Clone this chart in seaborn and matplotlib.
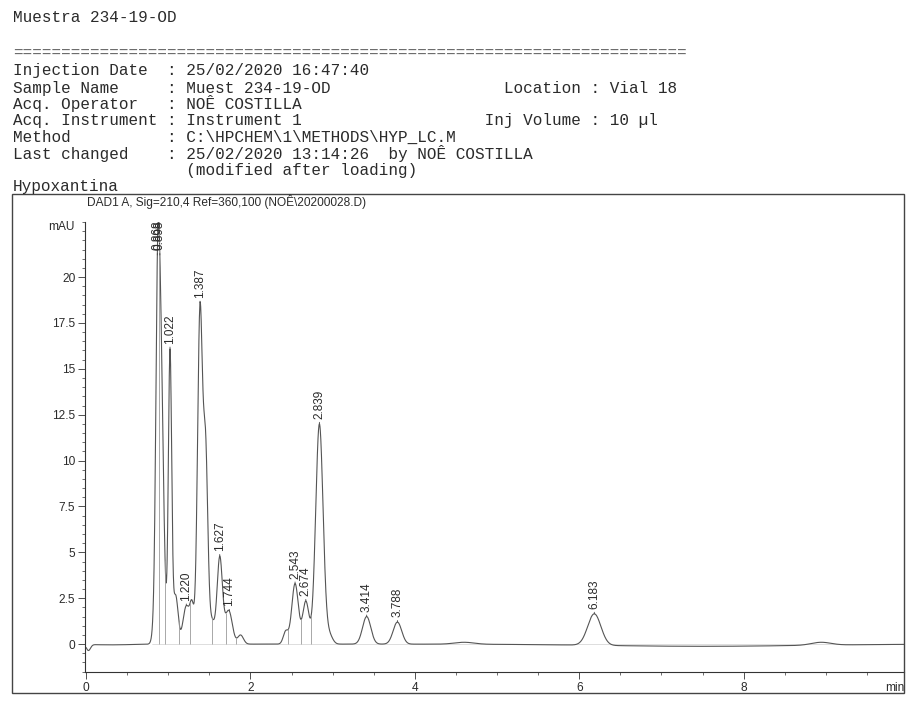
import numpy as np
import pandas as pd
import matplotlib
matplotlib.use("Agg")
import matplotlib.pyplot as plt
import seaborn as sns
from matplotlib.patches import Rectangle
from matplotlib.ticker import MultipleLocator, FixedLocator, FixedFormatter

# ---------------- data ----------------
peak_labels = ["0.868", "0.898", "1.022", "1.220", "1.387", "1.627", "1.744",
               "2.543", "2.674", "2.839", "3.414", "3.788", "6.183"]
peak_times = [0.868, 0.898, 1.022, 1.220, 1.387, 1.627, 1.744,
              2.543, 2.674, 2.839, 3.414, 3.788, 6.183]
peak_heights = [21.3, 21.3, 16.1, 2.1, 18.6, 4.8, 1.8,
                3.3, 2.35, 12.0, 1.5, 1.2, 1.65]
peak_widths = [0.020, 0.037, 0.020, 0.040, 0.030, 0.032, 0.040,
               0.040, 0.038, 0.045, 0.050, 0.052, 0.080]

# unlabelled features of the trace (dip at injection, shoulders, valleys, bumps, drift)
minor_times = [0.03, 0.30, 0.962, 1.09, 1.13, 1.29, 1.455, 1.53, 1.70, 1.88,
               2.43, 2.96, 4.60, 7.50, 8.94]
minor_heights = [-0.35, -0.04, 4.6, 2.7, 1.25, 2.4, 11.6, 1.5, 1.7, 0.5,
                 0.75, 0.8, 0.10, -0.12, 0.10]
minor_widths = [0.025, 0.25, 0.020, 0.030, 0.030, 0.025, 0.027, 0.035, 0.035,
                0.035, 0.030, 0.040, 0.12, 1.2, 0.12]

# integration drop lines (min)
drop_times = [0.883, 0.962, 1.13, 1.27, 1.53, 1.70, 1.83, 2.46, 2.61, 2.74]

y_ticks = [0, 2.5, 5, 7.5, 10, 12.5, 15, 17.5, 20]
y_tick_labels = ["0", "2.5", "5", "7.5", "10", "12.5", "15", "17.5", "20"]
x_ticks = [0, 2, 4, 6, 8]
x_tick_labels = ["0", "2", "4", "6", "8"]

header_lines = [
    "Injection Date  : 25/02/2020 16:47:40",
    "Sample Name     : Muest 234-19-OD                  Location : Vial 18",
    "Acq. Operator   : NOÊ COSTILLA",
    "Acq. Instrument : Instrument 1                   Inj Volume : 10 µl",
    "Method          : C:\\HPCHEM\\1\\METHODS\\HYP_LC.M",
    "Last changed    : 25/02/2020 13:14:26  by NOÊ COSTILLA",
    "                  (modified after loading)",
]
signal_title = "DAD1 A, Sig=210,4 Ref=360,100 (NOÊ\\20200028.D)"

# ---------------- build trace from the read peak table ----------------
centers = np.array(peak_times + minor_times)
heights = np.array(peak_heights + minor_heights)
widths = np.array(peak_widths + minor_widths)
G = np.exp(-(centers[:, None] - centers[None, :]) ** 2 / (2 * widths[None, :] ** 2))
amps = np.linalg.solve(G, heights)


def trace_at(x):
    x = np.atleast_1d(np.asarray(x, dtype=float))
    return (amps[None, :] * np.exp(-(x[:, None] - centers[None, :]) ** 2
                                   / (2 * widths[None, :] ** 2))).sum(axis=1)


t = np.linspace(0, 9.95, 5000)
df = pd.DataFrame({"time": t, "mAU": trace_at(t)})

# ---------------- figure ----------------
sns.set_theme(style="white")
plt.rcParams["font.family"] = ["Liberation Sans", "DejaVu Sans"]

W, H = 908, 720
fig = plt.figure(figsize=(W / 100, H / 100), dpi=100)
fig.patch.set_facecolor("white")


def fx(px):
    return px / W


def fy(py):
    return 1 - py / H


ink = "#2b2b2b"
mono = ["Liberation Mono", "DejaVu Sans Mono"]
hsize = 11.5

fig.text(fx(13), fy(18), "Muestra 234-19-OD", family=mono, fontsize=hsize,
         color=ink, va="center", ha="left")
fig.text(fx(13), fy(53), "=" * 70, family=mono, fontsize=hsize,
         color="#666666", va="center", ha="left")
line_y = [71, 88, 104, 121, 137, 153, 170]
for yy, line in zip(line_y, header_lines):
    fig.text(fx(13), fy(yy), line, family=mono, fontsize=hsize, color=ink,
             va="center", ha="left")
fig.text(fx(13), fy(187), "Hypoxantina", family=mono, fontsize=hsize,
         color=ink, va="center", ha="left")

# outer frame
fig.patches.append(Rectangle((fx(12), fy(693)), fx(904 - 12), (693 - 194) / H,
                             transform=fig.transFigure, fill=False,
                             edgecolor="#444444", linewidth=1.0))
fig.text(fx(87), fy(202), signal_title, fontsize=8.6, color=ink,
         va="center", ha="left")

ax = fig.add_axes([fx(85), fy(672), fx(904 - 85), (672 - 222) / H])
ax.set_facecolor("white")

sns.lineplot(data=df, x="time", y="mAU", ax=ax, color="#555555",
             linewidth=0.8, estimator=None, sort=False)

# drop lines and integration baseline
drop_vals = trace_at(drop_times)
ax.vlines(drop_times, 0, drop_vals, colors="#9a9a9a", linewidth=0.6)
ax.plot([0.8, 9.95], [0, 0], color="#c4c4c4", linewidth=0.4, zorder=0)

ax.set_xlim(-0.012, 9.95)
ax.set_ylim(-1.52, 23.0)

# peak labels
apex_vals = trace_at(peak_times)
for lab, tt, yv in zip(peak_labels, peak_times, apex_vals):
    ya = min(yv, 21.2)
    ax.annotate(lab, xy=(tt, ya), xytext=(0, 3.5), textcoords="offset points",
                rotation=90, ha="center", va="bottom", fontsize=8.5,
                color=ink,
                arrowprops=dict(arrowstyle="-", color="#444444", lw=0.6,
                                shrinkA=0, shrinkB=0))

ax.yaxis.set_major_locator(FixedLocator(y_ticks))
ax.yaxis.set_major_formatter(FixedFormatter(y_tick_labels))
ax.yaxis.set_minor_locator(MultipleLocator(0.5))
ax.xaxis.set_major_locator(FixedLocator(x_ticks))
ax.xaxis.set_major_formatter(FixedFormatter(x_tick_labels))
ax.xaxis.set_minor_locator(MultipleLocator(0.5))
ax.tick_params(axis="both", which="major", direction="out", length=5,
               width=0.6, color="#333333", labelsize=8.6, labelcolor=ink,
               pad=2)
ax.tick_params(axis="both", which="minor", direction="out", length=2.5,
               width=0.5, color="#333333")
ax.tick_params(axis="both", which="both", left=True, bottom=True)
ax.set_xlabel("")
ax.set_ylabel("")
for side in ["top", "right"]:
    ax.spines[side].set_visible(False)
for side in ["left", "bottom"]:
    ax.spines[side].set_color("#333333")
    ax.spines[side].set_linewidth(0.8)

ax.annotate("mAU", xy=(0, 22.75), xycoords=("axes fraction", "data"),
            xytext=(-7.5, 0), textcoords="offset points", ha="right",
            va="center", fontsize=8.6, color=ink)
ax.annotate("min", xy=(1.0, 0), xycoords="axes fraction", xytext=(0, -7),
            textcoords="offset points", ha="right", va="top", fontsize=8.6,
            color=ink)

fig.savefig("out.png", dpi=100, facecolor="white")
